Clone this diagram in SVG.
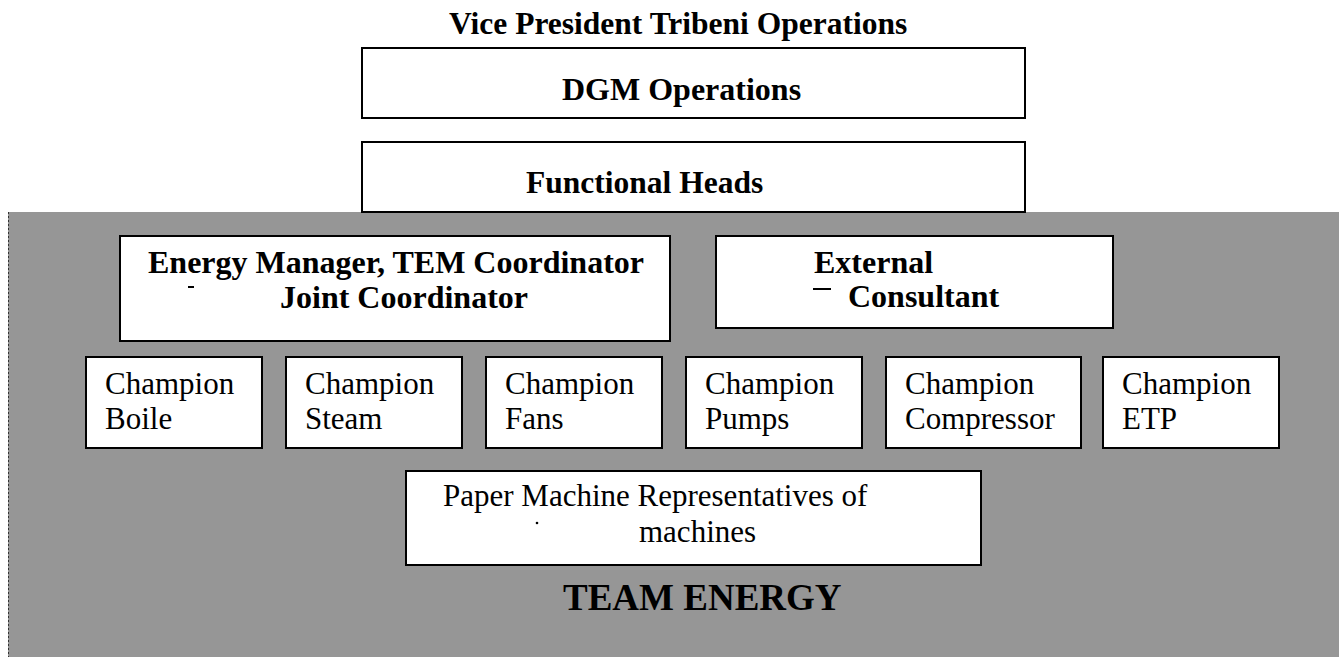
<svg xmlns="http://www.w3.org/2000/svg" width="1339" height="657" viewBox="0 0 1339 657">
<style>
text{font-family:"Liberation Serif","Times New Roman",serif;fill:#000}
.b{font-weight:bold}
.h{font-size:32px}
.r{font-size:31px}
.box{fill:#fff;stroke:#000;stroke-width:2}
</style>
<rect width="1339" height="657" fill="#fff"/>
<g id="vp"><text class="b" x="449" y="34" font-size="31.5">Vice President Tribeni Operations</text></g>
<g id="dgm"><rect class="box" x="362" y="48" width="663" height="70"/><text class="b h" x="562" y="100">DGM Operations</text></g>
<g id="team-energy-area">
<rect x="8" y="212" width="1331" height="445" fill="#969696"/>
<line x1="8.5" y1="212" x2="8.5" y2="657" stroke="#333" stroke-width="1" stroke-dasharray="2,2"/>
<text class="b" x="563" y="610" font-size="37">TEAM ENERGY</text>
</g>
<g id="functional-heads"><rect class="box" x="362" y="142" width="663" height="70"/><text class="b" x="526" y="193" font-size="31.5">Functional Heads</text></g>
<g id="energy-manager"><rect class="box" x="120" y="236" width="550" height="105"/>
<text class="b h" x="148" y="273">Energy Manager, TEM Coordinator</text>
<rect x="188" y="286" width="6" height="2" fill="#000"/>
<text class="b h" x="280" y="308">Joint Coordinator</text></g>
<g id="external-consultant"><rect class="box" x="716" y="236" width="397" height="92"/>
<text class="b h" x="814" y="273">External</text>
<rect x="813" y="288" width="18" height="2" fill="#000"/>
<text class="b h" x="848" y="307">Consultant</text></g>
<g id="champion-boiler"><rect class="box" x="86" y="357" width="176" height="91"/><text class="r" x="105" y="394">Champion</text><text class="r" x="105" y="429">Boile</text></g>
<g id="champion-steam"><rect class="box" x="286" y="357" width="176" height="91"/><text class="r" x="305" y="394">Champion</text><text class="r" x="305" y="429">Steam</text></g>
<g id="champion-fans"><rect class="box" x="486" y="357" width="176" height="91"/><text class="r" x="505" y="394">Champion</text><text class="r" x="505" y="429">Fans</text></g>
<g id="champion-pumps"><rect class="box" x="686" y="357" width="176" height="91"/><text class="r" x="705" y="394">Champion</text><text class="r" x="705" y="429">Pumps</text></g>
<g id="champion-compressor"><rect class="box" x="886" y="357" width="195" height="91"/><text class="r" x="905" y="394">Champion</text><text class="r" x="905" y="429">Compressor</text></g>
<g id="champion-etp"><rect class="box" x="1103" y="357" width="176" height="91"/><text class="r" x="1122" y="394">Champion</text><text class="r" x="1122" y="429">ETP</text></g>
<g id="paper-machine"><rect class="box" x="406" y="471" width="575" height="94"/>
<text class="r" x="443" y="506">Paper Machine Representatives of</text>
<circle cx="537" cy="523" r="1.3" fill="#000"/>
<text class="r" x="639" y="542">machines</text></g>
<g id="connectors"></g>
</svg>
